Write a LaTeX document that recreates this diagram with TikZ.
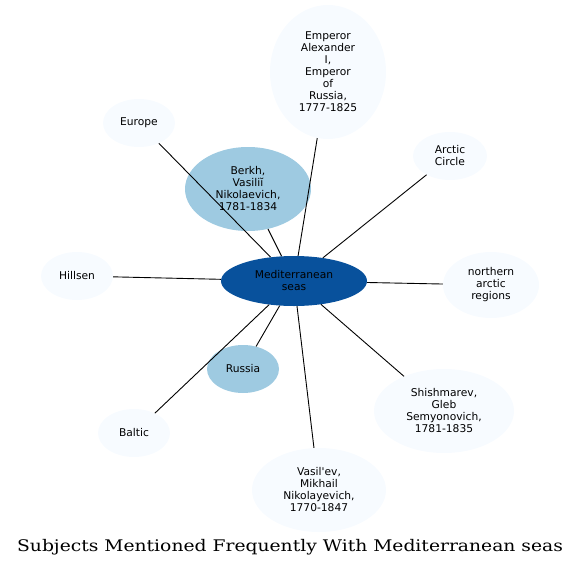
\documentclass[tikz,border=0pt]{standalone}
\usepackage{fontspec}
\newfontfamily\nodefont{DejaVu Sans}
\newfontfamily\titlefont[FakeStretch=1.17]{DejaVu Serif}
\usetikzlibrary{shapes.geometric}
\definecolor{cdark}{HTML}{08519C}
\definecolor{cmid}{HTML}{9ECAE1}
\definecolor{clight}{HTML}{F7FBFF}
\begin{document}
\begin{tikzpicture}[x=1pt,y=-1pt,
  ent/.style={ellipse,inner sep=0pt,align=center,font=\nodefont\fontsize{10.7}{12}\selectfont,text=black},
  light/.style={ent,fill=clight},
  mid/.style={ent,fill=cmid},
  hub/.style={ent,fill=cdark},
  link/.style={draw=black,line width=0.9pt}]
\useasboundingbox (0,0) rectangle (581,568);
\node[hub,minimum width=146pt,minimum height=50pt] (c) at (294,281) {Mediterranean\\seas};
\node[light,minimum width=116pt,minimum height=134pt] (emp) at (328,72) {Emperor\\Alexander\\I,\\Emperor\\of\\Russia,\\1777-1825};
\node[mid,minimum width=126pt,minimum height=84pt] (berkh) at (248,189) {Berkh,\\Vasiliĭ\\Nikolaevich,\\1781-1834};
\node[light,minimum width=72pt,minimum height=48pt] (eur) at (139,123) {Europe};
\node[light,minimum width=74pt,minimum height=48pt] (arc) at (450,156) {Arctic\\Circle};
\node[light,minimum width=72pt,minimum height=48pt] (hil) at (77,276) {Hillsen};
\node[light,minimum width=96pt,minimum height=66pt] (nar) at (491,285) {northern\\arctic\\regions};
\node[mid,minimum width=72pt,minimum height=48pt] (rus) at (243,369) {Russia};
\node[light,minimum width=72pt,minimum height=48pt] (bal) at (134,433) {Baltic};
\node[light,minimum width=140pt,minimum height=84pt] (shi) at (444,411) {Shishmarev,\\Gleb\\Semyonovich,\\1781-1835};
\node[light,minimum width=134pt,minimum height=84pt] (vas) at (319,490) {Vasil'ev,\\Mikhail\\Nikolayevich,\\1770-1847};
\draw[link] (c) -- (emp);
\draw[link] (c) -- (berkh);
\draw[link] (c) -- (eur);
\draw[link] (c) -- (arc);
\draw[link] (c) -- (hil);
\draw[link] (c) -- (nar);
\draw[link] (c) -- (rus);
\draw[link] (c) -- (bal);
\draw[link] (c) -- (shi);
\draw[link] (c) -- (vas);
\node[font=\titlefont\fontsize{16}{18}\selectfont] (title) at (290,547) {Subjects Mentioned Frequently With Mediterranean seas};
\end{tikzpicture}
\end{document}
